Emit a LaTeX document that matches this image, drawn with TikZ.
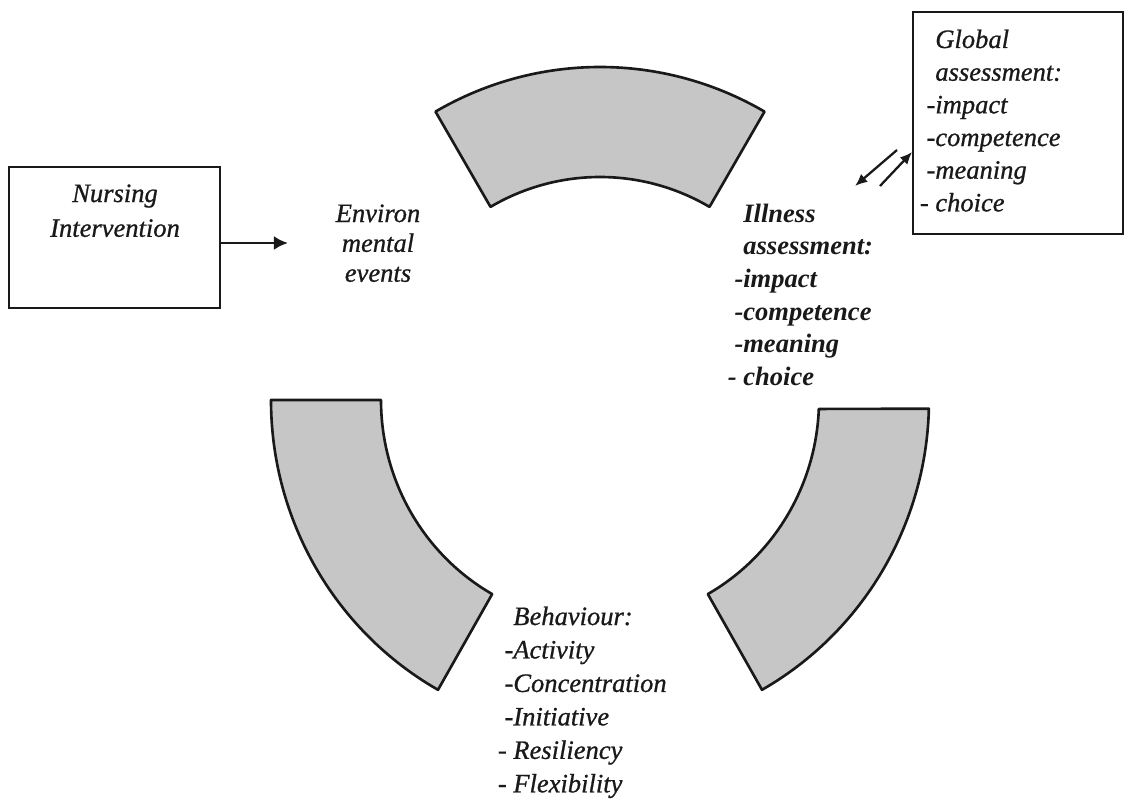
\documentclass[tikz,border=0pt]{standalone}
\usepackage{fontspec}
\setmainfont{Liberation Serif}[ItalicFeatures={FakeBold=0.8}]
\usetikzlibrary{arrows.meta,calc}

\definecolor{ink}{RGB}{25,25,25}
\definecolor{segfill}{RGB}{198,198,198}

% one block of lines: #1 line distance, #2 column alignment, #3 lines
\newcommand{\txtblock}[3]{{\fontsize{15.1pt}{#1}\selectfont
  \begin{tabular}[t]{@{}#2@{}}#3\end{tabular}}}

\tikzset{
  txt/.style={inner sep=0pt, font=\itshape, text=ink},
  frame/.style={draw=ink, line width=1pt, inner sep=0pt},
  seg/.style={draw=ink, line width=1.5pt, fill=segfill, line join=round},
  bigarrow/.style={draw=ink, line width=1.6pt, -{Latex[length=8pt,width=8pt]}},
  smallarrow/.style={draw=ink, line width=1.3pt, -{Latex[length=7pt,width=6pt]}},
}

\def\px{0.02cm}

\begin{document}
\begin{tikzpicture}[x=0.02cm, y=-0.02cm]
  \useasboundingbox (0,0) rectangle (1127,801);

  % ring of three curved bands: outer start/end, inner start/end angles
  \coordinate (C) at (600,400);
  \foreach \a/\b/\c/\d in {240/300/240/300, 180/119.5/180/119.5, 1.5/60.5/2.3/60.5} {
    \draw[seg] ($(C)+(\a:329 and 333)$)
      arc[start angle=\a, end angle=\b, x radius=329, y radius=333]
      -- ($(C)+(\d:219 and 223)$)
      arc[start angle=\d, end angle=\c, x radius=219, y radius=223]
      -- cycle;
  }

  % nursing intervention box
  \node[frame, minimum width=211*\px, minimum height=141*\px] (nurse) at (114.5,237.5) {};
  \node[txt, anchor=base] (nursetxt) at (115,202)
    {\txtblock{19.8pt}{c}{Nursing\\Intervention}};

  % environmental events
  \node[txt, anchor=base] (env) at (378,222)
    {\txtblock{17pt}{c}{Environ\\mental\\events}};
  \coordinate (envin) at (288,243);
  \draw[bigarrow] (nurse.east |- envin) -- (envin);

  % illness assessment
  \node[txt, anchor=base west] (ill) at (743,222)
    {\bfseries\txtblock{18.6pt}{l}{Illness\\assessment:\\\llap{-}impact\\\llap{-}competence\\\llap{-}meaning\\\llap{- }choice}};

  % global assessment box
  \node[frame, minimum width=210*\px, minimum height=222*\px] (global) at (1018,123) {};
  \node[txt, anchor=base west] (globtxt) at (935,48)
    {\txtblock{18.6pt}{l}{Global\\assessment:\\\llap{-}impact\\\llap{-}competence\\\llap{-}meaning\\\llap{- }choice}};

  % exchange between global and illness assessment
  \coordinate (g1s) at (897,150);
  \coordinate (g1e) at (855,186);
  \coordinate (g2s) at (880,186);
  \coordinate (g2e) at (913,152);
  \draw[smallarrow] (g1s) -- (g1e);
  \draw[smallarrow] (g2s) -- (global.west |- g2e);

  % behaviour
  \node[txt, anchor=base west] (beh) at (513,625)
    {\txtblock{19.05pt}{l}{Behaviour:\\\llap{-}Activity\\\llap{-}Concentration\\\llap{-}Initiative\\\llap{- }Resiliency\\\llap{- }Flexibility}};
\end{tikzpicture}
\end{document}
